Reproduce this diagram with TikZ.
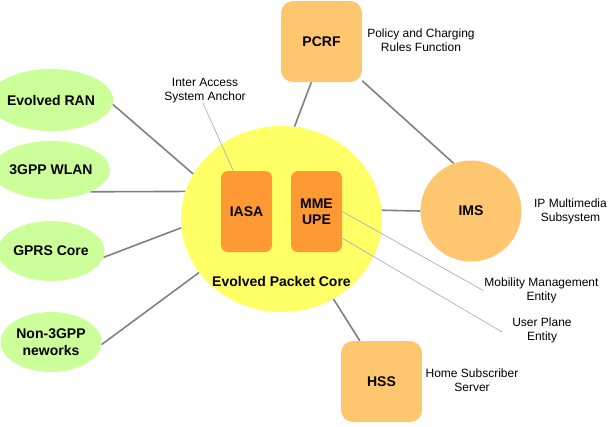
\documentclass[tikz,border=0pt]{standalone}
\usepackage{fontspec}
\setmainfont{Liberation Sans}
\usetikzlibrary{shapes.geometric,calc,backgrounds}
\definecolor{greenfill}{HTML}{CCFF99}
\definecolor{yellowfill}{HTML}{FFFF66}
\definecolor{darkorange}{HTML}{FF9933}
\definecolor{lightorange}{HTML}{FFC670}
\definecolor{linegray}{HTML}{808080}
\definecolor{calloutgray}{HTML}{B0B0B0}
\begin{document}
\begin{tikzpicture}[x=1pt,y=-1pt,
  boldtxt/.style={font=\bfseries\fontsize{14}{16.5}\selectfont, align=center},
  smalltxt/.style={font=\fontsize{12}{14}\selectfont, align=center, inner sep=1pt},
  greenell/.style={ellipse, fill=greenfill, minimum width=101pt, minimum height=62pt, inner sep=0pt, boldtxt},
  inner box/.style={rectangle, rounded corners=7pt, fill=darkorange, minimum width=51pt, minimum height=81pt, inner sep=0pt, boldtxt},
  outer box/.style={rectangle, rounded corners=12pt, fill=lightorange, minimum width=81pt, minimum height=81pt, inner sep=0pt, boldtxt},
  conn/.style={draw=linegray, line width=1.6pt},
  callout/.style={draw=calloutgray, line width=0.7pt}]
\useasboundingbox (0,0) rectangle (613,426);

% left networks
\node[greenell] (ran)  at (51,100) {Evolved RAN};
\node[greenell, minimum height=58pt] (wlan) at (51,170) {3GPP WLAN};
\node[greenell, minimum height=60pt] (gprs) at (51,251) {GPRS Core};
\node[greenell, minimum height=60pt] (non)  at (51,342) {Non-3GPP\\neworks};

% core
\node[ellipse, fill=yellowfill, minimum width=201pt, minimum height=186pt, inner sep=0pt] (epc) at (281.5,219) {};
\node[inner box] (iasa) at (246.5,211.5) {IASA};
\node[inner box] (mme) at (316.5,211.5) {MME\\UPE};
\node[boldtxt, inner sep=0pt] (epclbl) at (281.5,281) {Evolved Packet Core};

% other nodes
\node[outer box] (pcrf) at (321.5,41.5) {PCRF};
\node[outer box] (hss) at (381.5,381.5) {HSS};
\node[circle, fill=lightorange, minimum size=101pt, inner sep=0pt, boldtxt] (ims) at (471,211) {IMS};

% labels
\node[smalltxt] (pcrflbl) at (421,40.5) {Policy and Charging\\Rules Function};
\node[smalltxt] (imslbl) at (570.5,211) {IP Multimedia\\Subsystem};
\node[smalltxt] (hsslbl) at (472,380.5) {Home Subscriber\\Server};
\node[smalltxt] (iasalbl) at (205,90.5) {Inter Access\\System Anchor};
\node[smalltxt] (mmelbl) at (541.5,290.5) {Mobility Management\\Entity};
\node[smalltxt] (upelbl) at (542,330.5) {User Plane\\Entity};
\coordinate (upeend) at ($(upelbl.west)+(-9,1.5)$);
\coordinate (iasastart) at ($(iasalbl.south)+(-2,-1)$);

\begin{scope}[on background layer]
  \draw[conn] (ran.-4.5) -- (epc.153);
  \draw[conn] (wlan.-29) -- (epc.164.3);
  \draw[conn] (gprs.-7) -- (epc.185.2);
  \draw[conn] (non.-3.4) -- (epc.213.5);
  \draw[conn] (pcrf.-104.5) -- (epc.82.9);
  \draw[conn] (pcrf.-44.2) -- (ims.110.6);
  \draw[conn] (epc.5.1) -- (ims.180);
  \draw[conn] (epc.-57.2) -- (hss.118);
\end{scope}

\draw[callout] (iasastart) -- (iasa.108.4);
\draw[callout] (mme.east) -- (mmelbl.west);
\draw[callout] (mme.-46) -- (upeend);
\end{tikzpicture}
\end{document}
